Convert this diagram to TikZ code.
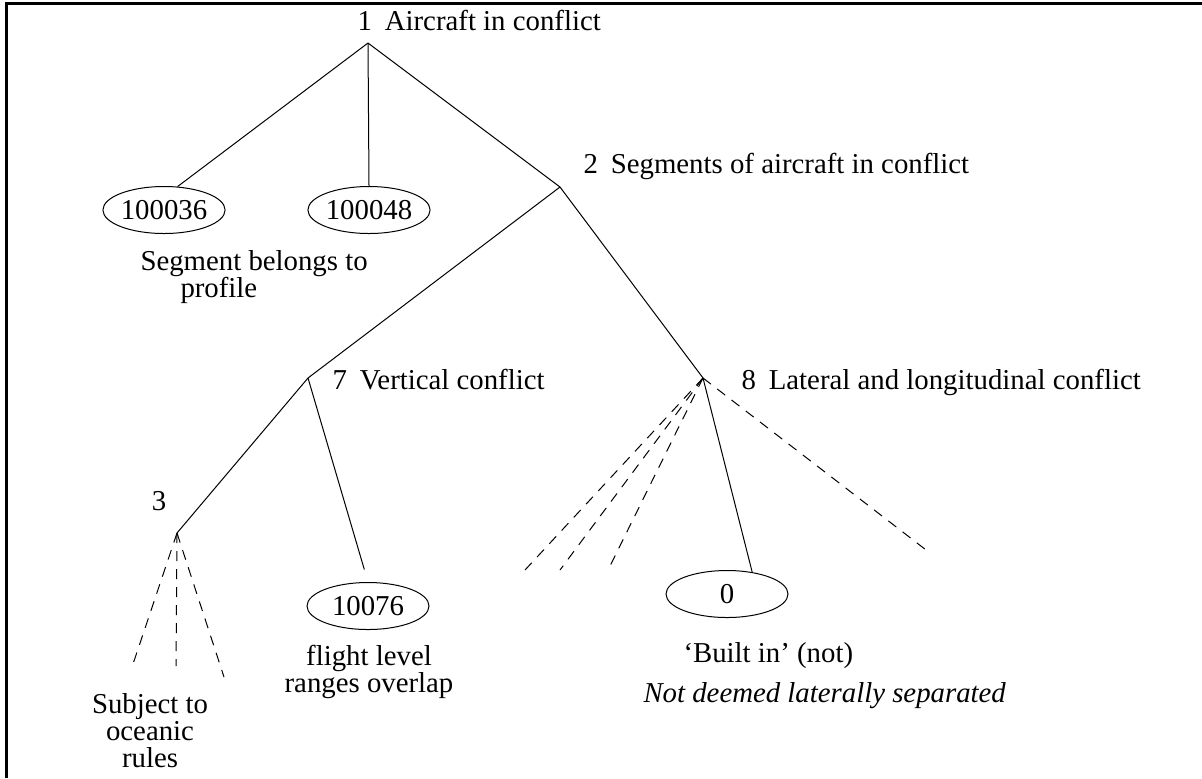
\documentclass[tikz,border=0pt]{standalone}
\usepackage{fontspec}
\setmainfont{Liberation Serif}
\usetikzlibrary{shapes.geometric}

\begin{document}
\begin{tikzpicture}[x=0.5pt,y=-0.5pt,line width=0.5pt,
    rule/.style={draw,ellipse,minimum width=61pt,minimum height=23.5pt,inner sep=0pt,font=\fontsize{14.4}{13.5}\selectfont},
    txt/.style={inner sep=0pt,font=\fontsize{14.4}{13.5}\selectfont},
    loose/.style={dash pattern=on 5pt off 4pt}]
    \useasboundingbox (0,0) rectangle (1202,778);
    \draw[line width=1.5pt] (6.5,778) -- (6.5,3.5) -- (1202,3.5);
    % tree points
    \coordinate (p1) at (368,43);
    \coordinate (p2) at (560,187);
    \coordinate (p7) at (308,378);
    \coordinate (p8) at (703,378);
    \coordinate (p3) at (177,533);
    % labels of the points
    \node[txt,anchor=base west] at (357,30) (l1) {1\hspace{0.45em}Aircraft in conflict};
    \node[txt,anchor=base west] at (583,173) (l2) {2\hspace{0.45em}Segments of aircraft in conflict};
    \node[txt,anchor=base west] at (332,389) (l7) {7\hspace{0.45em}Vertical conflict};
    \node[txt,anchor=base west] at (741,389) (l8) {8\hspace{0.45em}Lateral and longitudinal conflict};
    \node[txt,anchor=base] at (159,510) (l3) {3};
    % rules
    \node[rule] at (164,210) (r36) {100036};
    \node[rule] at (369,210) (r48) {100048};
    \node[rule] at (368,606) (r76) {10076};
    \node[rule] at (727,594) (r0) {0};
    \node[txt,align=left,anchor=north west] at (140,250) (t36) {Segment belongs to\\\hspace*{20pt}profile};
    \node[txt,align=center,anchor=north] at (369,645) (t76) {flight level\\ranges overlap};
    \node[txt,align=center,anchor=north] at (150,693) (t3) {Subject to\\oceanic\\rules};
    \node[txt,anchor=base west] at (683,662) (t0) {`Built in' (not)};
    \node[txt,anchor=base west,font=\fontsize{14.4}{13.5}\selectfont\itshape] at (643,702) (t8) {Not deemed laterally separated};
    % open ends
    \coordinate (a1) at (132,667);
    \coordinate (a2) at (176,666);
    \coordinate (a3) at (224,677);
    \coordinate (b1) at (525,570);
    \coordinate (b2) at (560,570);
    \coordinate (b3) at (608,570);
    \coordinate (b4) at (930,553);
    \draw (p1) -- (r36.60);
    \draw (p1) -- (r48.north);
    \draw (p1) -- (p2);
    \draw (p2) -- (p7);
    \draw (p2) -- (p8);
    \draw (p7) -- (p3);
    \draw[shorten >=6.5pt] (p7) -- (r76.north);
    \draw (p8) -- (r0.41);
    \draw[loose] (p3) -- (a1);
    \draw[loose] (p3) -- (a2);
    \draw[loose] (p3) -- (a3);
    \draw[loose] (p8) -- (b1);
    \draw[loose] (p8) -- (b2);
    \draw[loose] (p8) -- (b3);
    \draw[loose] (p8) -- (b4);
\end{tikzpicture}
\end{document}
